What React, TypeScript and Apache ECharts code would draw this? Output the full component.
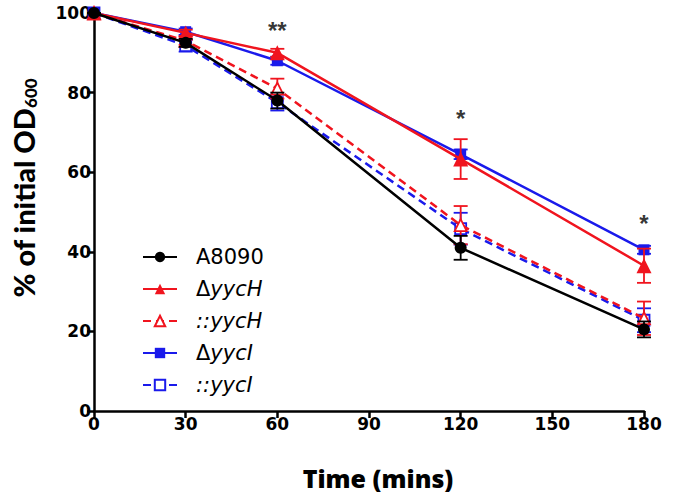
import React, { useEffect, useRef } from "react";
import * as echarts from "echarts";

const times = [0, 30, 60, 120, 180];
const seriesNames = ["A8090", "dyycH", "cyycH", "dyycI", "cyycI"];
const a8090 = [100, 92.5, 78, 41, 20.5];
const a8090Err = [0, 1, 2, 3, 2];
const dYycH = [100, 95, 90, 63.3, 36.5];
const dYycHErr = [0, 0.8, 1, 5, 4.3];
const cYycH = [100, 93, 81, 46.7, 23.3];
const cYycHErr = [0, 1, 2.5, 4.8, 4.2];
const dYycI = [100, 95.3, 88, 64.5, 40.5];
const dYycIErr = [0, 0.8, 1, 1.2, 1];
const cYycI = [100, 91.8, 77.5, 45.8, 22.8];
const cYycIErr = [0, 1.5, 2, 4, 3];
const sigX = [60, 120, 180];
const sigY = [95.5, 73.5, 47];
const sigLabels = ["**", "*", "*"];
const legendLabels: Record<string, string> = {
  A8090: "A8090",
  dyycH: "Δ{i|yycH}",
  cyycH: "{i|::yycH}",
  dyycI: "Δ{i|yycI}",
  cyycI: "{i|::yycI}",
};

const RED = "#f0141e";
const BLUE = "#1a1aeb";
const BLACK = "#000000";

export default function App() {
  const ref = useRef<HTMLDivElement>(null);
  useEffect(() => {
    if (!ref.current) return;
    const chart = echarts.init(ref.current, null, { renderer: "svg" });

    const defs = [
      { name: "A8090", vals: a8090, err: a8090Err, color: BLACK, symbol: "circle", size: 12, filled: true, dashed: false, z: 10 },
      { name: "dyycH", vals: dYycH, err: dYycHErr, color: RED, symbol: "triangle", size: 15, filled: true, dashed: false, z: 8 },
      { name: "cyycH", vals: cYycH, err: cYycHErr, color: RED, symbol: "triangle", size: 12, filled: false, dashed: true, z: 6 },
      { name: "dyycI", vals: dYycI, err: dYycIErr, color: BLUE, symbol: "rect", size: 11, filled: true, dashed: false, z: 7 },
      { name: "cyycI", vals: cYycI, err: cYycIErr, color: BLUE, symbol: "rect", size: 11, filled: false, dashed: true, z: 5 },
    ];

    const series: any[] = [];
    defs.forEach((d) => {
      series.push({
        type: "custom",
        name: d.name + "_err",
        z: d.z,
        silent: true,
        data: times.map((t, i) => [t, d.vals[i] - d.err[i], d.vals[i] + d.err[i]]),
        renderItem: (params: any, api: any) => {
          const x = api.value(0);
          const lo = api.coord([x, api.value(1)]);
          const hi = api.coord([x, api.value(2)]);
          const hw = 7;
          const st = { stroke: d.color, lineWidth: 1.8 };
          return {
            type: "group",
            children: [
              { type: "line", shape: { x1: lo[0], y1: lo[1], x2: hi[0], y2: hi[1] }, style: st },
              { type: "line", shape: { x1: lo[0] - hw, y1: lo[1], x2: lo[0] + hw, y2: lo[1] }, style: st },
              { type: "line", shape: { x1: hi[0] - hw, y1: hi[1], x2: hi[0] + hw, y2: hi[1] }, style: st },
            ],
          };
        },
      });
      series.push({
        type: "line",
        name: d.name,
        z: d.z,
        data: times.map((t, i) => [t, d.vals[i]]),
        symbol: d.symbol,
        symbolSize: d.size,
        showSymbol: true,
        lineStyle: { color: d.color, width: 2.5, type: d.dashed ? [8, 5] : "solid" },
        itemStyle: d.filled
          ? { color: d.color, borderColor: d.color, borderWidth: 0 }
          : { color: "#ffffff", borderColor: d.color, borderWidth: 1.8 },
      });
    });

    series.push({
      type: "scatter",
      name: "sig",
      symbolSize: 0,
      silent: true,
      data: sigX.map((x, i) => [x, sigY[i], sigLabels[i]]),
      label: {
        show: true,
        position: "inside",
        formatter: (p: any) => p.data[2],
        fontFamily: "Liberation Sans",
        fontWeight: "bold",
        fontSize: 24,
        color: "#000",
      },
    });

    chart.setOption({
      animation: false,
      backgroundColor: "#ffffff",
      grid: { left: 94, right: 31, top: 13, bottom: 87 },
      xAxis: {
        type: "value",
        min: 0,
        max: 180,
        interval: 30,
        splitLine: { show: false },
        axisLine: { lineStyle: { color: "#000", width: 2.5 } },
        axisTick: { length: 7, lineStyle: { color: "#000", width: 2.5 } },
        axisLabel: { color: "#000", fontFamily: "DejaVu Sans", fontWeight: "bold", fontSize: 17, margin: 4 },
      },
      yAxis: {
        type: "value",
        min: 0,
        max: 100,
        interval: 20,
        splitLine: { show: false },
        axisLine: { show: true, lineStyle: { color: "#000", width: 2.5 } },
        axisTick: { show: true, length: 7, lineStyle: { color: "#000", width: 2.5 } },
        axisLabel: { color: "#000", fontFamily: "DejaVu Sans", fontWeight: "bold", fontSize: 17, margin: 3 },
      },
      legend: {
        orient: "vertical",
        left: 137,
        top: 240,
        itemWidth: 34,
        itemHeight: 13,
        itemGap: 8,
        data: seriesNames,
        formatter: (n: string) => legendLabels[n],
        textStyle: {
          fontFamily: "DejaVu Sans",
          fontSize: 21,
          color: "#000",
          lineHeight: 24,
          padding: [0, 0, 0, 14],
          rich: { i: { fontFamily: "DejaVu Sans", fontStyle: "italic", fontSize: 21, color: "#000" } },
        },
      },
      graphic: [
        {
          type: "text",
          x: 23,
          y: 188,
          rotation: Math.PI / 2,
          style: {
            text: "{a|% of initial OD}{b|600}",
            align: "center",
            verticalAlign: "middle",
            rich: {
              a: { fontFamily: "Lato", fontWeight: 900, fontSize: 29, fill: "#000", lineHeight: 32, verticalAlign: "middle" },
              b: { fontFamily: "Lato", fontWeight: 900, fontSize: 17, fill: "#000", lineHeight: 32, verticalAlign: "bottom", padding: [13, 0, 0, 0] },
            },
          },
        },
        {
          type: "text",
          x: 378,
          y: 478,
          style: {
            text: "Time (mins)",
            align: "center",
            verticalAlign: "middle",
            fontFamily: "Open Sans",
            fontWeight: 800,
            fontSize: 25,
            fill: "#000",
          },
        },
      ],
      series,
    });
    return () => chart.dispose();
  }, []);
  return <div ref={ref} style={{ position: "absolute", left: 0, top: 0, width: 675, height: 498 }} />;
}
